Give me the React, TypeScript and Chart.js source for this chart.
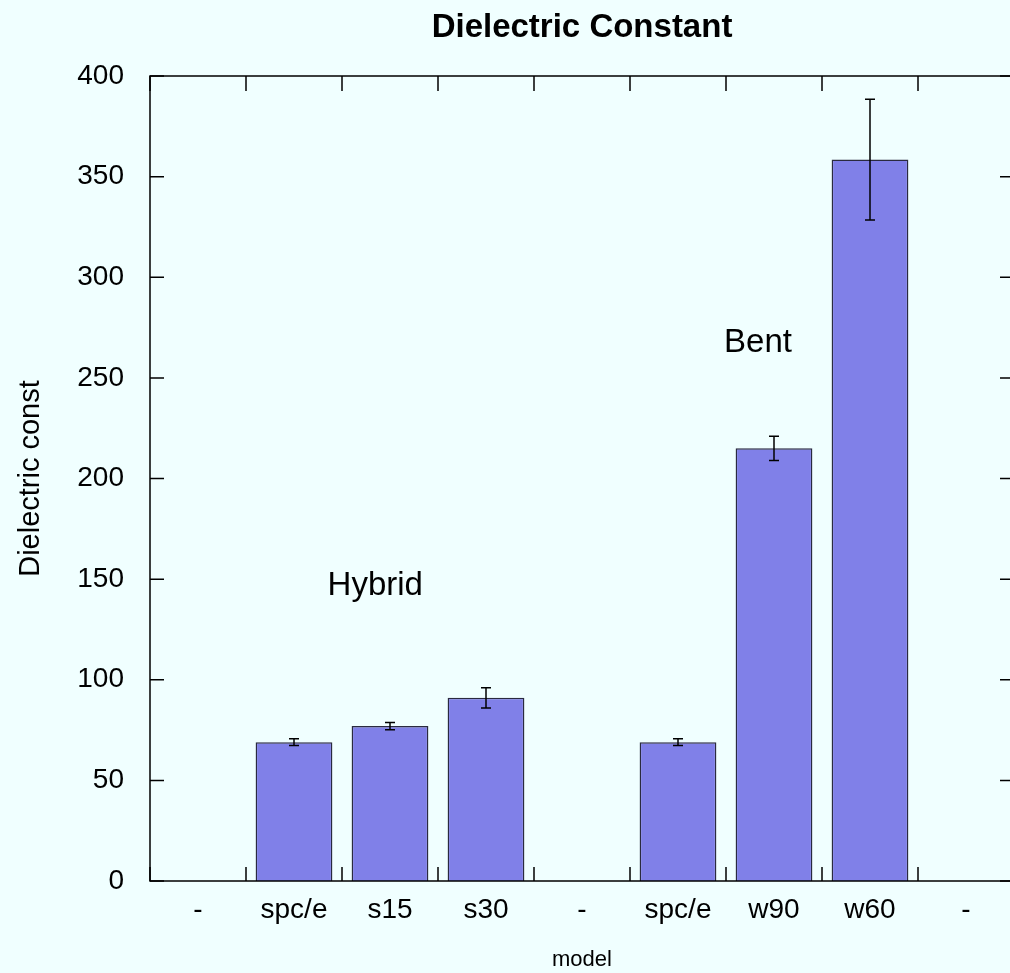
import React, { useEffect, useRef } from "react";
import { Chart, registerables } from "chart.js";

Chart.register(...registerables);

// Model categories along the x axis ("-" are empty spacer slots)
const categories = ["-", "spc/e", "s15", "s30", "-", "spc/e", "w90", "w60", "-"];
// Dielectric constant per model and its uncertainty
const dielectric: (number | null)[] = [null, 69, 77, 91, null, 69, 215, 358.5, null];
const dielectricErr: (number | null)[] = [null, 1.7, 1.8, 5, null, 1.7, 6, 30, null];
// Group labels placed in data coordinates (x = category index, y = value at baseline)
const groupLabels = ["Hybrid", "Bent"];
const groupLabelX = [1.35, 5.48];
const groupLabelY = [142, 263];

const FONT = "'Liberation Sans', Arial, Helvetica, sans-serif";
const W = 1164;
const H = 973;

const framePlugin = {
  id: "frameAndErrors",
  afterDatasetsDraw(chart: any) {
    const { ctx, chartArea } = chart;
    const xs = chart.scales.x;
    const ys = chart.scales.y;
    const meta = chart.getDatasetMeta(0);
    ctx.save();

    // error bars
    ctx.strokeStyle = "#000";
    ctx.lineWidth = 1.5;
    meta.data.forEach((bar: any, i: number) => {
      const v = dielectric[i];
      const e = dielectricErr[i];
      if (v == null || e == null) return;
      const x = bar.x;
      const y1 = ys.getPixelForValue(v + e);
      const y2 = ys.getPixelForValue(v - e);
      ctx.beginPath();
      ctx.moveTo(x, y1);
      ctx.lineTo(x, y2);
      ctx.moveTo(x - 5, y1);
      ctx.lineTo(x + 5, y1);
      ctx.moveTo(x - 5, y2);
      ctx.lineTo(x + 5, y2);
      ctx.stroke();
    });

    // frame
    const { left, right, top, bottom } = chartArea;
    ctx.lineWidth = 1.5;
    ctx.beginPath();
    ctx.rect(left, top, right - left, bottom - top);
    ctx.stroke();

    // inward ticks, mirrored on all sides
    ctx.beginPath();
    ys.ticks.forEach((t: any) => {
      const y = ys.getPixelForValue(t.value);
      ctx.moveTo(left, y);
      ctx.lineTo(left + 14, y);
      ctx.moveTo(right, y);
      ctx.lineTo(right - 14, y);
    });
    for (let i = 0; i <= categories.length; i++) {
      const x = xs.getPixelForValue(i - 0.5);
      ctx.moveTo(x, bottom);
      ctx.lineTo(x, bottom - 14);
      ctx.moveTo(x, top);
      ctx.lineTo(x, top + 15);
    }
    ctx.stroke();

    // group labels
    ctx.fillStyle = "#000";
    ctx.font = `33px ${FONT}`;
    ctx.textAlign = "left";
    ctx.textBaseline = "alphabetic";
    groupLabels.forEach((txt, i) => {
      ctx.fillText(txt, xs.getPixelForValue(groupLabelX[i]), ys.getPixelForValue(groupLabelY[i]));
    });
    ctx.restore();
  },
};

export default function App() {
  const ref = useRef<HTMLCanvasElement>(null);

  useEffect(() => {
    if (!ref.current) return;
    Chart.defaults.font.family = FONT;
    const chart = new Chart(ref.current, {
      type: "bar",
      data: {
        labels: categories,
        datasets: [
          {
            data: dielectric as any,
            backgroundColor: "#8080e8",
            borderColor: "#2a2a40",
            borderWidth: 1.5,
            barPercentage: 0.8,
            categoryPercentage: 1,
          },
        ],
      },
      options: {
        responsive: false,
        animation: false,
        layout: { padding: 0 },
        plugins: {
          legend: { display: false },
          tooltip: { enabled: false },
          title: {
            display: true,
            text: "Dielectric Constant",
            color: "#000",
            font: { family: FONT, size: 33, weight: "bold" },
            padding: { top: 8, bottom: 28.4 },
          },
        },
        scales: {
          x: {
            type: "category",
            offset: true,
            grid: { display: false, drawTicks: false },
            border: { display: false },
            ticks: {
              color: "#000",
              font: { size: 28 },
              padding: 12,
              maxRotation: 0,
              autoSkip: false,
            },
            title: {
              display: true,
              text: "model",
              color: "#000",
              font: { size: 22 },
              padding: 0,
            },
            afterFit(s: any) {
              s.height = 92;
            },
          },
          y: {
            type: "linear",
            min: 0,
            max: 400,
            grid: { display: false, drawTicks: false },
            border: { display: false },
            ticks: { stepSize: 50, color: "#000", font: { size: 28 }, padding: 26 },
            title: {
              display: true,
              text: "Dielectric const",
              color: "#000",
              font: { size: 29 },
              padding: { top: 14, bottom: 0 },
            },
            afterFit(s: any) {
              s.width = 150;
            },
          },
          y2: {
            type: "linear",
            position: "right",
            display: true,
            grid: { display: false, drawTicks: false },
            border: { display: false },
            ticks: { display: false },
            afterFit(s: any) {
              s.width = 150;
            },
          },
        },
      } as any,
      plugins: [framePlugin],
    });
    return () => chart.destroy();
  }, []);

  return (
    <div
      style={{
        position: "absolute",
        left: 0,
        top: 0,
        width: 1010,
        height: H,
        overflow: "hidden",
        background: "#f0ffff",
      }}
    >
      <canvas ref={ref} width={W} height={H} style={{ display: "block", width: W, height: H }} />
    </div>
  );
}
